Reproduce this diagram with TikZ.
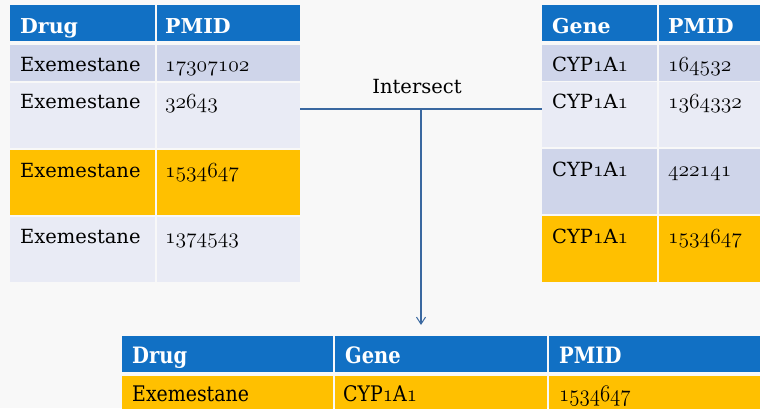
\RequirePackage{fix-cm}
\documentclass[tikz,border=0pt]{standalone}
\usepackage{fontspec}
\setmainfont{DejaVu Serif}
\usetikzlibrary{arrows.meta,calc}

\definecolor{pagebg}{HTML}{F8F8F8}
\definecolor{headblue}{HTML}{1170C4}
\definecolor{rowdark}{HTML}{CFD5EA}
\definecolor{rowlight}{HTML}{E9EBF5}
\definecolor{hilite}{HTML}{FFC000}
\definecolor{linkblue}{HTML}{3A68A0}

% old-style figures taken from the Computer Modern math italic font
\newcommand{\osn}[1]{{\fontsize{21.5}{24}\usefont{OML}{cmm}{m}{it}#1}}
\newcommand{\cyp}{CYP\osn{1}A\osn{1}}

\tikzset{
  cellbox/.style={draw=none, fill=#1, anchor=north west, inner sep=0pt, outer sep=0pt},
  headtext/.style={anchor=base west, inner sep=0pt, text=white,
    font=\fontsize{20.5}{25}\selectfont\bfseries},
  bodytext/.style={anchor=base west, inner sep=0pt, text=black,
    font=\fontsize{19.5}{24}\selectfont},
  link/.style={draw=linkblue, line width=1.1pt},
}

% \cell{name}{x}{y}{width}{height}{fill}
\newcommand{\cell}[6]{%
  \node[cellbox=#6, minimum width=#4pt, minimum height=#5pt] (#1) at (#2,#3) {};}

\begin{document}
\begin{tikzpicture}[x=1pt, y=-1pt]
  \useasboundingbox (0,0) rectangle (760,408);
  \fill[pagebg] (0,0) rectangle (760,408);

  % ---- drug table ----
  \cell{dh1}{10}{5}{145}{36}{headblue}
  \cell{dh2}{157}{5}{143}{36}{headblue}
  \cell{da1}{10}{45}{145}{36}{rowdark}
  \cell{da2}{157}{45}{143}{36}{rowdark}
  \cell{db1}{10}{83}{145}{65}{rowlight}
  \cell{db2}{157}{83}{143}{65}{rowlight}
  \cell{dc1}{10}{150}{145}{65}{hilite}
  \cell{dc2}{157}{150}{143}{65}{hilite}
  \cell{dd1}{10}{217}{145}{65}{rowlight}
  \cell{dd2}{157}{217}{143}{65}{rowlight}

  \node[headtext] (tdh1) at (20,33) {Drug};
  \node[headtext] (tdh2) at (165,33) {PMID};
  \node[bodytext] (tda1) at (20,71) {Exemestane};
  \node[bodytext] (tda2) at (165,71) {\osn{17307102}};
  \node[bodytext] (tdb1) at (20,108) {Exemestane};
  \node[bodytext] (tdb2) at (165,108) {\osn{32643}};
  \node[bodytext] (tdc1) at (20,177) {Exemestane};
  \node[bodytext] (tdc2) at (165,177) {\osn{1534647}};
  \node[bodytext] (tdd1) at (20,243) {Exemestane};
  \node[bodytext] (tdd2) at (165,243) {\osn{1374543}};

  % ---- gene table ----
  \cell{gh1}{542}{5}{115}{36}{headblue}
  \cell{gh2}{659}{5}{110}{36}{headblue}
  \cell{ga1}{542}{45}{115}{36}{rowdark}
  \cell{ga2}{659}{45}{110}{36}{rowdark}
  \cell{gb1}{542}{82}{115}{65}{rowlight}
  \cell{gb2}{659}{82}{110}{65}{rowlight}
  \cell{gc1}{542}{149}{115}{65}{rowdark}
  \cell{gc2}{659}{149}{110}{65}{rowdark}
  \cell{gd1}{542}{216}{115}{66}{hilite}
  \cell{gd2}{659}{216}{110}{66}{hilite}

  \node[headtext] (tgh1) at (552,33) {Gene};
  \node[headtext] (tgh2) at (668,33) {PMID};
  \node[bodytext] (tga1) at (552,71) {\cyp};
  \node[bodytext] (tga2) at (668,71) {\osn{164532}};
  \node[bodytext] (tgb1) at (552,108) {\cyp};
  \node[bodytext] (tgb2) at (668,108) {\osn{1364332}};
  \node[bodytext] (tgc1) at (552,176) {\cyp};
  \node[bodytext] (tgc2) at (668,176) {\osn{422141}};
  \node[bodytext] (tgd1) at (552,243) {\cyp};
  \node[bodytext] (tgd2) at (668,243) {\osn{1534647}};

  % ---- result table ----
  \cell{rh1}{122}{336}{211}{36}{headblue}
  \cell{rh2}{335}{336}{212}{36}{headblue}
  \cell{rh3}{549}{336}{220}{36}{headblue}
  \cell{ra1}{122}{376}{211}{40}{hilite}
  \cell{ra2}{335}{376}{212}{40}{hilite}
  \cell{ra3}{549}{376}{220}{40}{hilite}

  \node[headtext] (trh1) at (132,363) {\scalebox{0.95}[1.1]{Drug}};
  \node[headtext] (trh2) at (345,363) {\scalebox{0.95}[1.1]{Gene}};
  \node[headtext] (trh3) at (559,363) {\scalebox{0.95}[1.1]{PMID}};
  \node[bodytext] (tra1) at (132,401) {\scalebox{0.97}[1.1]{Exemestane}};
  \node[bodytext] (tra2) at (343,401) {\scalebox{0.97}[1.1]{\cyp}};
  \node[bodytext] (tra3) at (559,401) {\scalebox{0.97}[1.1]{\osn{1534647}}};

  % ---- intersect connector ----
  \coordinate (jl) at (db2.east |- 0,109);
  \coordinate (jr) at (gb1.west |- 0,109);
  \coordinate (jn) at (421,109);
  \coordinate (tip) at (421,325);
  \node[bodytext, anchor=base] (isect) at (417,93) {Intersect};
  \draw[link] (jl) -- (jr);
  \draw[link, -{Straight Barb[length=7pt, width=9pt, line width=1pt]}] (jn) -- (tip);
\end{tikzpicture}
\end{document}
